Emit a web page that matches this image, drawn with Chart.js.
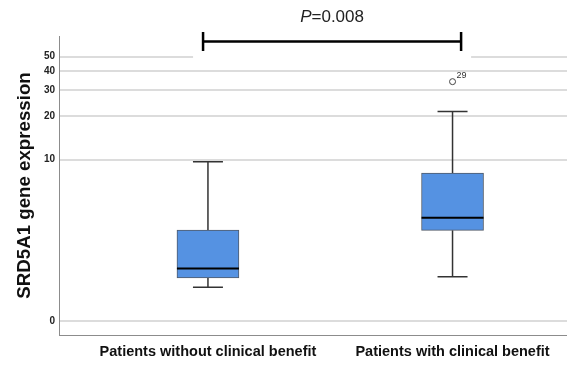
<!DOCTYPE html>
<html>
<head>
<meta charset="utf-8">
<script src="https://cdn.jsdelivr.net/npm/chart.js@4"></script>
<style>
  html, body { margin: 0; padding: 0; background: #fff; overflow: hidden; }
  canvas { display: block; }
</style>
</head>
<body>
<canvas id="chart" width="567" height="365" style="width:567px;height:365px"></canvas>
<script>
// Groups and five-number summaries of SRD5A1 expression
const categories = ['Patients without clinical benefit', 'Patients with clinical benefit'];
const whiskerLow  = [0.65, 0.93];
const quartile1   = [0.90, 2.85];
const medians     = [1.18, 3.64];
const quartile3   = [2.87, 8.03];
const whiskerHigh = [9.67, 21.5];

// Outlying case
const outlierGroup  = [2];
const outlierValues = [34.1];
const outlierLabels = ['29'];

// Axis ticks
const yTickValues = [0, 10, 20, 30, 40, 50];
const yTickLabels = ['0', '10', '20', '30', '40', '50'];

// Comparison annotation
const pSymbol = 'P';
const pText = '=0.008';

// Expression is plotted on a log10(x + 1) axis
const tf = v => Math.log10(v + 1);

const boxPlot = {
  id: 'boxPlot',
  beforeDatasetsDraw(chart) {
    const { ctx, scales: { x, y } } = chart;
    ctx.save();
    // white band behind the significance bracket
    const bx0 = x.getPixelForValue(0.98), bx1 = x.getPixelForValue(2.035);
    ctx.fillStyle = '#ffffff';
    ctx.fillRect(bx0 - 10, 28, (bx1 - bx0) + 20, 31);
    // whiskers and caps
    ctx.strokeStyle = '#333333';
    ctx.lineWidth = 1.5;
    categories.forEach((c, i) => {
      const cx = x.getPixelForValue(i + 1);
      const yHi = y.getPixelForValue(tf(whiskerHigh[i]));
      const yLo = y.getPixelForValue(tf(whiskerLow[i]));
      const yQ3 = y.getPixelForValue(tf(quartile3[i]));
      const yQ1 = y.getPixelForValue(tf(quartile1[i]));
      ctx.beginPath();
      ctx.moveTo(cx, yHi); ctx.lineTo(cx, yQ3);
      ctx.moveTo(cx, yQ1); ctx.lineTo(cx, yLo);
      ctx.moveTo(cx - 15, yHi); ctx.lineTo(cx + 15, yHi);
      ctx.moveTo(cx - 15, yLo); ctx.lineTo(cx + 15, yLo);
      ctx.stroke();
    });
    ctx.restore();
  },
  afterDatasetsDraw(chart) {
    const { ctx, scales: { x, y } } = chart;
    ctx.save();
    // medians
    const meta = chart.getDatasetMeta(0);
    ctx.strokeStyle = '#000000';
    ctx.lineWidth = 2;
    categories.forEach((c, i) => {
      const bar = meta.data[i];
      const half = bar.width / 2;
      const ym = y.getPixelForValue(tf(medians[i]));
      ctx.beginPath();
      ctx.moveTo(bar.x - half, ym);
      ctx.lineTo(bar.x + half, ym);
      ctx.stroke();
    });
    // outlier case labels
    ctx.fillStyle = '#333333';
    ctx.font = '9px "Liberation Sans", Arial, sans-serif';
    ctx.textAlign = 'left';
    ctx.textBaseline = 'alphabetic';
    outlierLabels.forEach((lab, i) => {
      const px = x.getPixelForValue(outlierGroup[i]);
      const py = y.getPixelForValue(tf(outlierValues[i]));
      ctx.fillText(lab, px + 4, py - 4);
    });
    // significance bracket
    const bx0 = x.getPixelForValue(0.98), bx1 = x.getPixelForValue(2.035);
    const by = y.getPixelForValue(1.804);
    ctx.strokeStyle = '#000000';
    ctx.lineWidth = 2.5;
    ctx.beginPath();
    ctx.moveTo(bx0, by); ctx.lineTo(bx1, by);
    ctx.moveTo(bx0, by - 9.5); ctx.lineTo(bx0, by + 9.5);
    ctx.moveTo(bx1, by - 9.5); ctx.lineTo(bx1, by + 9.5);
    ctx.stroke();
    // p-value text
    const cx = (bx0 + bx1) / 2;
    const italic = 'italic 17px "Liberation Sans", Arial, sans-serif';
    const normal = '17px "Liberation Sans", Arial, sans-serif';
    ctx.font = italic; const w1 = ctx.measureText(pSymbol).width;
    ctx.font = normal; const w2 = ctx.measureText(pText).width;
    const start = cx - (w1 + w2) / 2;
    ctx.fillStyle = '#222222';
    ctx.textBaseline = 'middle';
    ctx.font = italic; ctx.fillText(pSymbol, start, by - 24);
    ctx.font = normal; ctx.fillText(pText, start + w1, by - 24);
    ctx.restore();
  }
};

new Chart(document.getElementById('chart'), {
  data: {
    datasets: [
      {
        type: 'bar',
        data: categories.map((c, i) => ({ x: i + 1, y: [tf(quartile1[i]), tf(quartile3[i])] })),
        backgroundColor: '#5592e2',
        borderColor: '#505a68',
        borderWidth: 1,
        borderSkipped: false,
        barThickness: 62,
        order: 2
      },
      {
        type: 'scatter',
        data: outlierValues.map((v, i) => ({ x: outlierGroup[i], y: tf(v) })),
        pointStyle: 'circle',
        pointRadius: 3,
        backgroundColor: '#ffffff',
        borderColor: '#444444',
        borderWidth: 1,
        order: 1
      }
    ]
  },
  options: {
    responsive: false,
    animation: false,
    layout: { autoPadding: false, padding: { top: 36, right: 0, bottom: 0, left: 0 } },
    plugins: { legend: { display: false }, tooltip: { enabled: false } },
    scales: {
      x: {
        type: 'linear',
        offset: false,
        min: 0.391,
        max: 2.468,
        afterBuildTicks(scale) { scale.ticks = categories.map((c, i) => ({ value: i + 1 })); },
        afterFit(scale) { scale.height = 30; scale.paddingLeft = 0; scale.paddingRight = 0; },
        grid: { display: false, drawTicks: false, offset: false },
        border: { display: true, color: '#8c8c8c', width: 1 },
        ticks: {
          autoSkip: false,
          maxRotation: 0,
          padding: 8,
          color: '#111111',
          font: { family: '"Liberation Sans", Arial, sans-serif', size: 14.5, weight: 'bold' },
          callback: (v, i) => categories[i]
        }
      },
      y: {
        type: 'linear',
        min: -0.0904,
        max: 1.840,
        afterBuildTicks(scale) { scale.ticks = yTickValues.map(v => ({ value: tf(v) })); },
        afterFit(scale) { scale.width = 59; },
        grid: { color: '#dcdcdc', lineWidth: 2, drawTicks: false },
        border: { display: true, color: '#8c8c8c', width: 1 },
        ticks: {
          padding: 4,
          color: '#222222',
          font: { family: '"Liberation Sans Narrow", "Liberation Sans", Arial, sans-serif', size: 10, weight: 'bold' },
          callback: (v, i) => yTickLabels[i]
        },
        title: {
          display: true,
          text: 'SRD5A1 gene expression',
          color: '#111111',
          font: { family: '"Liberation Sans", Arial, sans-serif', size: 18.7, weight: 'bold' },
          padding: { top: 14, bottom: 0 }
        }
      }
    }
  },
  plugins: [boxPlot]
});
</script>
</body>
</html>
